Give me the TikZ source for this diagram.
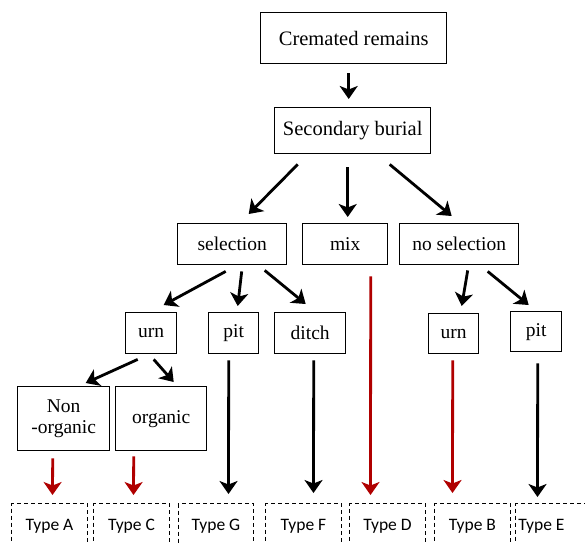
\documentclass[tikz,border=0pt]{standalone}
\usepackage{fontspec}
\setmainfont{Liberation Serif}
\newfontfamily\typefont{Carlito}
\usetikzlibrary{arrows.meta,calc}
\definecolor{dred}{HTML}{B00000}
\tikzset{
  box/.style={draw, line width=1.4pt, minimum height=41pt, inner sep=0pt, font=\fontsize{19.5}{22}\selectfont, anchor=north west},
  bigbox/.style={box, font=\fontsize{20.5}{24}\selectfont},
  typebox/.style={draw, dashed, dash pattern=on 4pt off 3pt, line width=1pt, minimum height=46pt, inner sep=0pt, anchor=north west, font=\typefont\fontsize{17.5}{20}\selectfont},
  arr/.style={line width=2.8pt, -{Stealth[length=13pt,width=18pt,inset=3.5pt]}},
  redarr/.style={arr, draw=dred, color=dred},
}
\begin{document}
\begin{tikzpicture}[x=1pt,y=-1pt]
\clip (0,0) rectangle (585,542);
\fill[white] (0,0) rectangle (585,542);
% main boxes (positions = top-left corners in pixels)
\node[bigbox, minimum width=186pt, minimum height=51pt] (cr) at (260,12) {Cremated remains};
\node[bigbox, minimum width=156pt, minimum height=46pt] (sb) at (274,107) {Secondary burial};
\node[box, minimum width=109pt] (sel) at (177,223) {selection};
\node[box, minimum width=85pt] (mix) at (302,223) {mix};
\node[box, minimum width=119pt] (nosel) at (399,223) {no selection};
\node[box, minimum width=51pt] (urnA) at (125,312) {urn};
\node[box, minimum width=50pt] (pitA) at (208,312) {pit};
\node[box, minimum width=71pt] (ditch) at (274,312) {ditch};
\node[box, minimum width=50pt, minimum height=40pt] (urnB) at (428,313) {urn};
\node[box, minimum width=51pt, minimum height=40pt] (pitB) at (510,311) {pit};
\node[box, minimum width=92pt, minimum height=64pt, align=center] (nonorg) at (17,386) {Non\\[-1pt]-organic};
\node[box, minimum width=91pt, minimum height=64pt] (org) at (115,386) {organic};
% type boxes
\node[typebox, minimum width=76pt] (TA) at (11,503) {Type A};
\node[typebox, minimum width=76pt] (TC) at (93,503) {Type C};
\node[typebox, minimum width=75pt] (TG) at (178,503) {Type G};
\node[typebox, minimum width=76pt] (TF) at (265,503) {Type F};
\node[typebox, minimum width=76pt] (TD) at (349,503) {Type D};
\node[typebox, minimum width=76pt] (TB) at (434,503) {Type B};
\node[typebox, minimum width=76pt] (TE) at (515,503) {\raisebox{3pt}{Type E}\hspace*{24pt}};
% arrows
\draw[arr] ($(cr.south)+(-5,9)$) -- ($(sb.north)+(-4,-8)$);
\draw[arr] ($(sb.south)+(-55,10)$) -- ($(sel.north)+(16.5,-9)$);
\draw[arr] ($(sb.south)+(-5,13)$) -- ($(mix.north)+(2.5,-6)$);
\draw[arr] ($(sb.south)+(37,10)$) -- ($(nosel.north)+(-7.5,-7)$);
\draw[arr] ($(sel.south)+(-6.5,6)$) -- ($(urnA.north)+(12.5,-7)$);
\draw[arr] ($(sel.south)+(9.5,6)$) -- ($(pitA.north)+(4,-6)$);
\draw[arr] ($(sel.south)+(32.5,5)$) -- ($(ditch.north)+(-4.5,-8)$);
\draw[redarr] ($(mix.south)+(25.5,11)$) -- ($(TD.north)+(-17,-8)$);
\draw[arr] ($(nosel.south)+(8.5,5)$) -- ($(urnB.north)+(8,-7)$);
\draw[arr] ($(nosel.south)+(28.5,6)$) -- ($(pitB.north)+(-7.5,-6)$);
\draw[arr] ($(urnA.south)+(-13.5,5)$) -- ($(nonorg.north)+(22,-3)$);
\draw[arr] ($(urnA.south)+(2.5,5)$) -- ($(org.north)+(12.5,-4)$);
\draw[redarr] ($(nonorg.south)+(-11,7)$) -- ($(TA.north)+(3,-8)$);
\draw[redarr] ($(org.south)+(-27.5,5)$) -- ($(TC.north)+(2,-8)$);
\draw[arr] ($(pitA.south)+(-5,6)$) -- ($(TG.north)+(12.5,-9)$);
\draw[arr] ($(ditch.south)+(3.5,6)$) -- ($(TF.north)+(10,-10)$);
\draw[redarr] ($(urnB.south)+(-1,6)$) -- ($(TB.north)+(-20,-10)$);
\draw[arr] ($(pitB.south)+(1.5,11)$) -- ($(TE.north)+(-16,-6)$);
\end{tikzpicture}
\end{document}
